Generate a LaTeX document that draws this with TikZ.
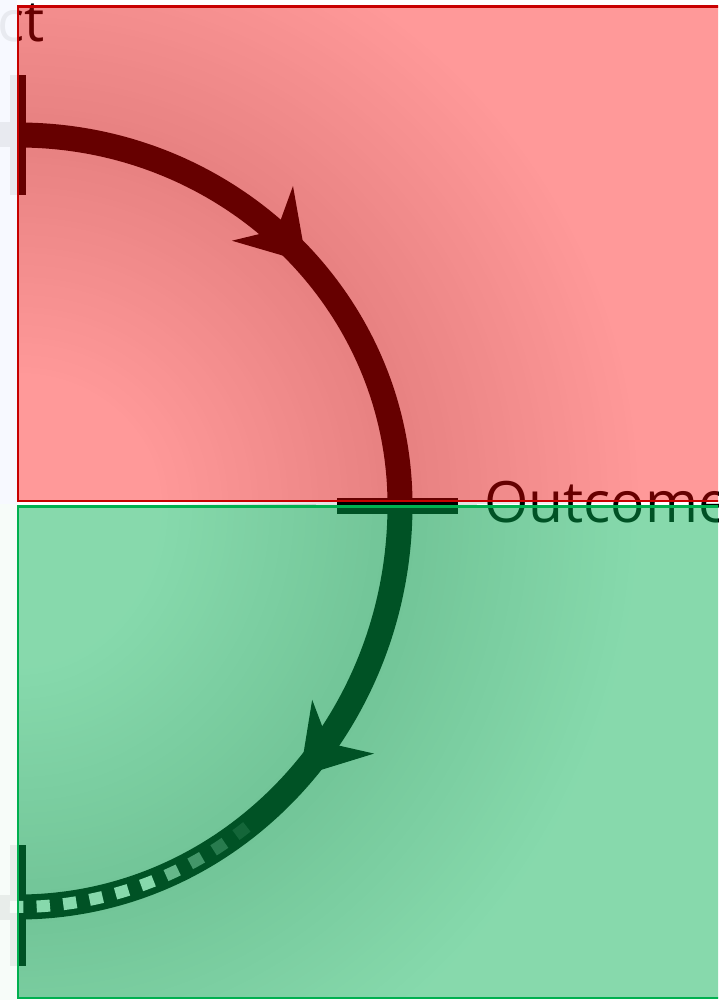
\documentclass[tikz,border=0pt]{standalone}
\usepackage{fontspec}
\setmainfont{Open Sans}
\usetikzlibrary{decorations.markings}
\definecolor{redov}{HTML}{FF0000}
\definecolor{greenov}{HTML}{00B050}
\definecolor{redbd}{HTML}{C80000}
\definecolor{greenbd}{HTML}{00B050}
\definecolor{stripA}{HTML}{F7F9FF}
\definecolor{stripB}{HTML}{F7FCF9}
\begin{document}
\begin{tikzpicture}[x=1pt,y=-1pt,
  arcline/.style={line width=25pt, draw=black},
  tickbar/.style={fill=black},
  halo/.style={line width=#1pt, draw=black, opacity=0.0055},
  bigtext/.style={font=\fontsize{57}{62}\selectfont, inner sep=0pt, text=black},
  arrowmark/.style={postaction={decorate}, decoration={markings,
     mark=at position #1 with {\fill[black] (0,0) -- (-66,41) -- (-44,0) -- (-66,-41) -- cycle;}}}]
\useasboundingbox (0,0) rectangle (718,1000);
\clip (0,0) rectangle (718,1000);
\fill[white] (0,0) rectangle (718,1000);

\coordinate (topstart) at (18,135);
\coordinate (topin) at (0,135);
\coordinate (mid) at (400,505);
\coordinate (botend) at (18,907);
\coordinate (botout) at (0,907);

% soft shadow under the arcs
\begin{scope}
  \clip (18,6.5) rectangle (740,998);
  \foreach \w in {20,32,...,476} {
    \draw[halo=\w] (topstart) arc[start angle=-90, end angle=0, x radius=382, y radius=370];
    \draw[halo=\w] (mid) arc[start angle=0, end angle=90, x radius=382, y radius=402];
  }
\end{scope}

% ticks
\fill[tickbar] (10,75) rectangle (26,195);
\fill[tickbar] (337,498) rectangle (458,514);
\fill[tickbar] (10,845) rectangle (26,966);

% arcs
\draw[arcline] (topin) -- (topstart);
\draw[arcline, arrowmark=0.55] (topstart) arc[start angle=-90, end angle=0, x radius=382, y radius=370];
\draw[arcline, arrowmark=0.48] (mid) arc[start angle=0, end angle=90, x radius=382, y radius=402];
\draw[arcline] (botend) -- (botout);

% fading dashes on the lower arc
\foreach \k/\o in {0/1,1/1,2/1,3/1,4/1,5/1,6/0.75,7/0.5,8/0.3,9/0.15} {
  \pgfmathsetmacro\a{90.2-4*\k}
  \pgfmathsetmacro\xs{18+382*cos(\a+1)}
  \pgfmathsetmacro\ys{505+402*sin(\a+1)}
  \draw[white, line width=12pt, opacity=\o] (\xs,\ys) arc[start angle=\a+1, end angle=\a-1, x radius=382, y radius=402];
}

% texts
\node[bigtext, anchor=base west] (outcome) at (484,522) {Outcome};
\node[bigtext, anchor=base east] (ct) at (45,42) {ct};

% translucent panels
\fill[redov, opacity=0.4] (18,6.5) rectangle (740,502);
\fill[greenov, opacity=0.47] (18,505) rectangle (740,998);
\draw[redbd, line width=2.5pt] (740,6.5) -- (18,6.5) -- (18,501) -- (740,501);
\draw[greenbd, line width=2.5pt] (740,506.5) -- (18,506.5) -- (18,998) -- (740,998);

% faded left strip
\fill[stripA, opacity=0.94] (0,0) rectangle (16.8,503.5);
\fill[stripB, opacity=0.94] (0,503.5) rectangle (16.8,1000);
\end{tikzpicture}
\end{document}
